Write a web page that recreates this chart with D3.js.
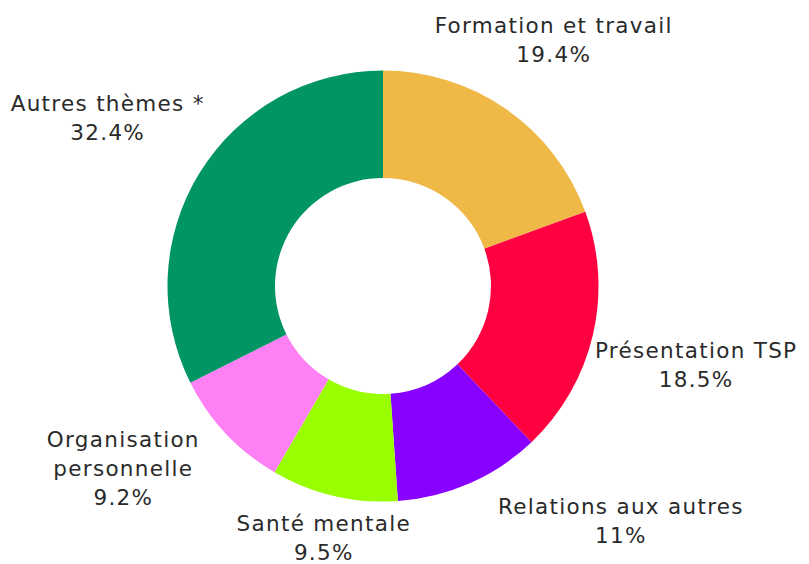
<!DOCTYPE html>
<html><head><meta charset="utf-8">
<script src="https://cdn.jsdelivr.net/npm/d3@7"></script>
<style>html,body{margin:0;padding:0;background:#fff;}svg{display:block;}</style>
</head><body>
<svg id="chart" width="809" height="564"></svg>
<script>
const categories = ["Formation et travail", "Présentation TSP", "Relations aux autres", "Santé mentale", "Organisation personnelle", "Autres thèmes *"];
const labelLines = [["Formation et travail"], ["Présentation TSP"], ["Relations aux autres"], ["Santé mentale"], ["Organisation", "personnelle"], ["Autres thèmes *"]];
const values = [19.4, 18.5, 11, 9.5, 9.2, 32.4];
const valueLabels = ["19.4%", "18.5%", "11%", "9.5%", "9.2%", "32.4%"];
const colors = ["#EFB847", "#FF0040", "#8800FF", "#99FF00", "#FF80F5", "#009562"];
// label offsets from the mid-angle anchor (collision avoidance)
const labelNudge = [[-1, 0], [21, 11], [117, -40], [9, -40], [-41, -23], [-20, -10]];

const W = 809, H = 564;
const cx = 383, cy = 286, R = 215.5, r = 108, labelR = 300;
const lineH = 29, capH = 15;

const svg = d3.select("#chart");
const g = svg.append("g").attr("transform", `translate(${cx},${cy})`);

const data = categories.map((c, i) => ({cat: c, value: values[i], i}));
const pie = d3.pie().value(d => d.value).sort(null);
const arc = d3.arc().innerRadius(r).outerRadius(R);
const color = d3.scaleOrdinal().domain(categories).range(colors);

const arcs = pie(data);
g.selectAll("path.slice").data(arcs).enter().append("path")
  .attr("class", "slice")
  .attr("d", arc)
  .attr("fill", d => color(d.data.cat));

const labelArc = d3.arc().innerRadius(labelR).outerRadius(labelR);
g.selectAll("text.lbl").data(arcs).enter().append("text")
  .attr("class", "lbl")
  .attr("text-anchor", "middle")
  .attr("font-family", "'DejaVu Sans', sans-serif")
  .attr("font-size", 21.5)
  .attr("letter-spacing", 1.3)
  .attr("fill", "#2a2a2a")
  .each(function(d) {
    const i = d.data.i;
    const [px, py] = labelArc.centroid(d);
    const x = px + labelNudge[i][0];
    const yc = py + labelNudge[i][1];
    const lines = labelLines[i].concat([valueLabels[i]]);
    const n = lines.length;
    const y0 = yc - (n - 1) * lineH / 2 + capH / 2;
    const t = d3.select(this);
    lines.forEach((ln, k) => {
      t.append("tspan").attr("x", x).attr("y", y0 + k * lineH).text(ln);
    });
  });
</script>
</body></html>
